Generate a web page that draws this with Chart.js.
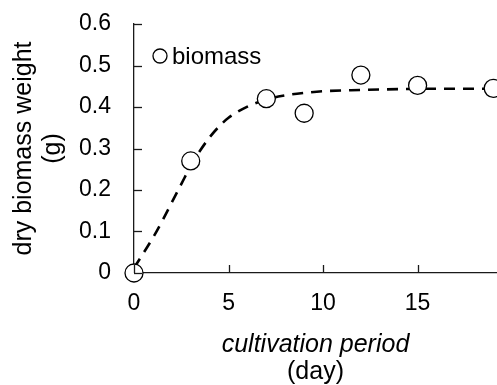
<!DOCTYPE html>
<html>
<head>
<meta charset="utf-8">
<script src="https://cdn.jsdelivr.net/npm/chart.js@4"></script>
<style>
html,body{margin:0;padding:0;background:#fff;}
#wrap{width:497px;height:385px;position:relative;}
</style>
</head>
<body>
<div id="wrap"><canvas id="c" width="497" height="385"></canvas></div>
<script>
// measured samples
const days = [0, 3, 7, 9, 12, 15, 19];
const biomass = [0, 0.27, 0.42, 0.385, 0.477, 0.452, 0.445];
// fitted curve
const fitDays = [0, 0.5, 1, 1.5, 2, 2.5, 3, 3.5, 4, 4.5, 5, 6, 7, 8, 9, 10, 12, 14, 16, 19.2];
const fitWeight = [0.012, 0.048, 0.085, 0.126, 0.17, 0.214, 0.258, 0.295, 0.327, 0.353, 0.374, 0.401, 0.418, 0.428, 0.434, 0.438, 0.441, 0.443, 0.444, 0.444];
// tick labels
const xTicks = [0, 5, 10, 15];
const yTicks = [0, 0.1, 0.2, 0.3, 0.4, 0.5, 0.6];
const seriesLabel = 'biomass';
const xTitle = ['cultivation period', '(day)'];
const yTitle = ['dry biomass weight', '(g)'];

const FONT = '"Liberation Sans", Arial, sans-serif';
const FS = 23;
const TFS = 25;
const LFS = 24;

const overlay = {
  id: 'overlay',
  afterDraw(chart) {
    const ctx = chart.ctx;
    const xs = chart.scales.x, ys = chart.scales.y;
    const x0 = xs.getPixelForValue(0), y0 = ys.getPixelForValue(0);
    ctx.save();
    ctx.strokeStyle = '#1a1a1a';
    ctx.lineWidth = 1.3;
    xTicks.forEach(v => {
      const px = Math.round(xs.getPixelForValue(v)) + 0.5;
      ctx.beginPath(); ctx.moveTo(px, y0); ctx.lineTo(px, y0 - 8); ctx.stroke();
    });
    yTicks.forEach(v => {
      const py = Math.round(ys.getPixelForValue(v)) + 0.5;
      ctx.beginPath(); ctx.moveTo(x0, py); ctx.lineTo(x0 + 8, py); ctx.stroke();
    });
    ctx.restore();
    ctx.save();
    ctx.fillStyle = '#000';
    const cx = (chart.chartArea.left + chart.chartArea.right) / 2;
    ctx.textAlign = 'center';
    ctx.textBaseline = 'alphabetic';
    ctx.font = 'italic ' + TFS + 'px ' + FONT;
    ctx.fillText(xTitle[0], cx, 352);
    ctx.font = TFS + 'px ' + FONT;
    ctx.fillText(xTitle[1], cx, 379);
    const cy = (chart.chartArea.top + chart.chartArea.bottom) / 2;
    ctx.save();
    ctx.translate(31, cy);
    ctx.rotate(-Math.PI / 2);
    ctx.fillText(yTitle[0], 0, 0);
    ctx.restore();
    ctx.save();
    ctx.translate(60, cy);
    ctx.rotate(-Math.PI / 2);
    ctx.fillText(yTitle[1], 0, 0);
    ctx.restore();
    // legend
    const lx = 160, ly = 56;
    ctx.beginPath();
    ctx.arc(lx, ly, 7, 0, Math.PI * 2);
    ctx.fillStyle = '#fff'; ctx.fill();
    ctx.lineWidth = 1.3; ctx.strokeStyle = '#000'; ctx.stroke();
    ctx.fillStyle = '#000';
    ctx.textAlign = 'left';
    ctx.textBaseline = 'middle';
    ctx.font = LFS + 'px ' + FONT;
    ctx.fillText(seriesLabel, 172, ly + 1);
    ctx.restore();
  }
};

new Chart(document.getElementById('c'), {
  type: 'scatter',
  data: {
    datasets: [
      {
        label: seriesLabel,
        data: days.map((d, i) => ({x: d, y: biomass[i]})),
        pointRadius: 9,
        pointBackgroundColor: '#fff',
        pointBorderColor: '#000',
        pointBorderWidth: 1.3,
        showLine: false,
        clip: false
      },
      {
        label: 'fit',
        data: fitDays.map((d, i) => ({x: d, y: fitWeight[i]})),
        showLine: true,
        pointRadius: 0,
        borderColor: '#000',
        borderWidth: 2.6,
        borderDash: [11, 8],
        cubicInterpolationMode: 'monotone',
        fill: false
      }
    ]
  },
  options: {
    responsive: false,
    animation: false,
    devicePixelRatio: 1,
    layout: {autoPadding: false, padding: {top: 24, right: 0, left: 0, bottom: 0}},
    plugins: {legend: {display: false}, tooltip: {enabled: false}},
    scales: {
      x: {
        type: 'linear', min: 0, max: 19.2,
        afterBuildTicks: s => { s.ticks = xTicks.map(v => ({value: v})); },
        afterFit: s => { s.height = 112; s.paddingLeft = 0; s.paddingRight = 0; },
        grid: {display: false},
        border: {display: true, color: '#1a1a1a', width: 1.3},
        ticks: {color: '#000', font: {family: FONT, size: FS}, padding: 9, maxRotation: 0}
      },
      y: {
        type: 'linear', min: 0, max: 0.6,
        afterBuildTicks: s => { s.ticks = yTicks.map(v => ({value: v})); },
        afterFit: s => { s.width = 134; s.paddingTop = 0; s.paddingBottom = 0; },
        grid: {display: false},
        border: {display: true, color: '#1a1a1a', width: 1.3},
        ticks: {color: '#000', font: {family: FONT, size: FS}, padding: 15,
          callback: v => String(Math.round(v * 10) / 10)}
      }
    }
  },
  plugins: [overlay]
});
</script>
</body>
</html>
